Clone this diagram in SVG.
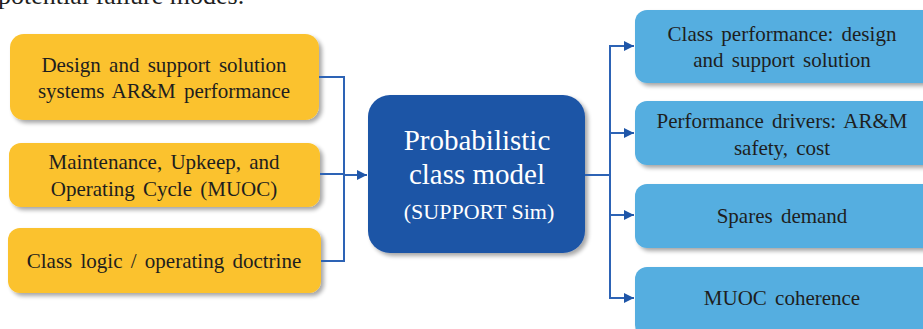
<svg xmlns="http://www.w3.org/2000/svg" width="923" height="329" viewBox="0 0 923 329">
<defs>
<filter id="sh" x="-10%" y="-20%" width="125%" height="150%">
<feGaussianBlur in="SourceAlpha" stdDeviation="2"/>
<feOffset dx="3" dy="3" result="o"/>
<feComponentTransfer><feFuncA type="linear" slope="0.35"/></feComponentTransfer>
<feMerge><feMergeNode/><feMergeNode in="SourceGraphic"/></feMerge>
</filter>
<marker id="ar" viewBox="0 0 10 10" refX="10" refY="5" markerWidth="10" markerHeight="10" markerUnits="userSpaceOnUse" orient="auto">
<path d="M0,0 L10,5 L0,10 z" fill="#1F56A8"/>
</marker>
</defs>
<style>
.y{fill:#FBC22D;filter:url(#sh)}
.c{fill:#1D54A6;filter:url(#sh)}
.b{fill:#55AEE0;filter:url(#sh)}
text{font-family:'Liberation Serif','Times New Roman',serif}
.t{font-size:21px;fill:#1e1e1e;text-anchor:middle;word-spacing:3px}
.w{fill:#fff;text-anchor:middle}
.ln{fill:none;stroke:#2D63B5;stroke-width:2}
</style>
<text x="-2" y="4" font-size="26" fill="#1e1e1e">potential failure modes.</text>
<g id="in1"><rect class="y" x="10" y="34" width="309" height="86" rx="14"/>
<text class="t" x="164" y="72">Design and support solution</text>
<text class="t" x="164" y="98">systems AR&amp;M performance</text></g>
<g id="in2"><rect class="y" x="9" y="143" width="311" height="64" rx="12"/>
<text class="t" x="164" y="169">Maintenance, Upkeep, and</text>
<text class="t" x="164" y="196">Operating Cycle (MUOC)</text></g>
<g id="in3"><rect class="y" x="8" y="228" width="313" height="65" rx="12"/>
<text class="t" x="164" y="268">Class logic / operating doctrine</text></g>
<g id="model"><rect class="c" x="368" y="95" width="217" height="158" rx="22"/>
<text class="w" x="477" y="150" font-size="29">Probabilistic</text>
<text class="w" x="477" y="184" font-size="29">class model</text>
<text class="w" x="479" y="219" font-size="22">(SUPPORT Sim)</text></g>
<g id="out1"><rect class="b" x="635" y="10" width="300" height="73" rx="12"/>
<text class="t" x="782" y="41">Class performance: design</text>
<text class="t" x="782" y="67">and support solution</text></g>
<g id="out2"><rect class="b" x="635" y="101" width="300" height="64" rx="12"/>
<text class="t" x="782" y="128">Performance drivers: AR&amp;M</text>
<text class="t" x="782" y="155">safety, cost</text></g>
<g id="out3"><rect class="b" x="635" y="184" width="300" height="64" rx="12"/>
<text class="t" x="782" y="223">Spares demand</text></g>
<g id="out4"><rect class="b" x="635" y="267" width="300" height="70" rx="12"/>
<text class="t" x="782" y="305">MUOC coherence</text></g>
<g id="connectors">
<path class="ln" d="M319,77 H344 V261 H321"/>
<path class="ln" d="M320,174 H344"/>
<path class="ln" d="M344,175 H367" marker-end="url(#ar)"/>
<path class="ln" d="M585,175 H610"/>
<path class="ln" d="M610,46 V298"/>
<path class="ln" d="M609,46 H634" marker-end="url(#ar)"/>
<path class="ln" d="M609,133 H634" marker-end="url(#ar)"/>
<path class="ln" d="M609,215 H634" marker-end="url(#ar)"/>
<path class="ln" d="M609,298 H634" marker-end="url(#ar)"/>
</g>
</svg>
